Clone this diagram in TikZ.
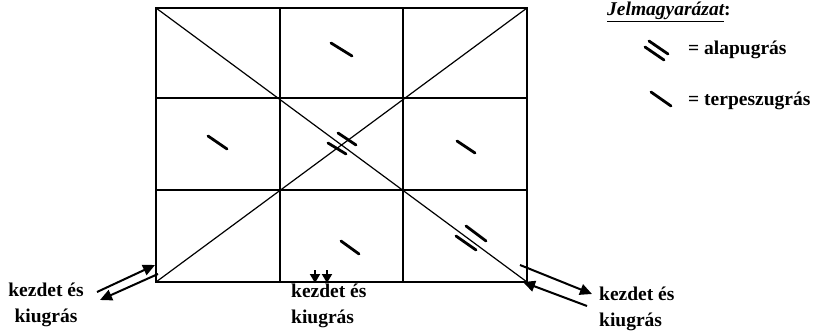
\documentclass[tikz,border=0pt]{standalone}
\usepackage{fontspec}
\setmainfont{Liberation Serif}
\usetikzlibrary{arrows.meta}
\begin{document}
\begin{tikzpicture}[x=1pt,y=-1pt,
  grid/.style={line width=1.8pt},
  diag/.style={line width=1.2pt},
  jump/.style={line width=2.8pt, line cap=round},
  arr/.style={line width=2pt, -{Triangle[length=12pt,width=11pt]}},
  marr/.style={line width=1.8pt, -{Triangle[length=9pt,width=10pt]}},
  lbl/.style={font=\fontsize{19.5}{26}\selectfont\bfseries, inner sep=0pt},
]
\useasboundingbox (0,0) rectangle (814,331);
% grid corners
\coordinate (TL) at (156,8);
\coordinate (TR) at (527,8);
\coordinate (BL) at (156,282);
\coordinate (BR) at (527,282);
\draw[grid] (TL) rectangle (BR);
\draw[grid] (280,8) -- (280,282) (403,8) -- (403,282);
\draw[grid] (156,98) -- (527,98) (156,190) -- (527,190);
\draw[diag] (TL) -- (BR) (BL) -- (TR);
% single marks (terpeszugras)
\draw[jump] (331,43) -- (352,56);
\draw[jump] (208,136) -- (227,149);
\draw[jump] (457,141) -- (475,153);
\draw[jump] (341,241) -- (359,254);
% double marks (alapugras)
\draw[jump] (338,133) -- (356,145) (328,143) -- (346,154);
\draw[jump] (466,226) -- (486,241) (456,236) -- (476,250);
% start/exit arrows
\coordinate (l1a) at (97,292); \coordinate (l1b) at (155,265);
\coordinate (l2a) at (158,274); \coordinate (l2b) at (100,300);
\draw[arr] (l1a) -- (l1b);
\draw[arr] (l2a) -- (l2b);
\coordinate (m1a) at (315,270); \coordinate (m1b) at (315,283);
\coordinate (m2a) at (327,270); \coordinate (m2b) at (327,283);
\draw[marr] (m1a) -- (m1b);
\draw[marr] (m2a) -- (m2b);
\coordinate (r1a) at (520,265); \coordinate (r1b) at (592,294);
\coordinate (r2a) at (587,306); \coordinate (r2b) at (523,282);
\draw[arr] (r1a) -- (r1b);
\draw[arr] (r2a) -- (r2b);
% labels
\node[lbl, align=center] (ll) at (46,305) {kezdet és\\kiugrás};
\node[lbl, align=left, anchor=north west] (ml) at (291,284) {kezdet és\\kiugrás};
\node[lbl, align=left, anchor=north west] (rl) at (599,287) {kezdet és\\kiugrás};
% legend
\node[lbl, anchor=west] (leg) at (607,12) {\textit{\underline{Jelmagyarázat}}:};
\draw[jump] (649,41) -- (668,54) (645,47) -- (664,60);
\node[lbl, anchor=west] (l1) at (688,50) {= alapugrás};
\draw[jump] (651,92) -- (671,106);
\node[lbl, anchor=west] (l2) at (688,101) {= terpeszugrás};
\end{tikzpicture}
\end{document}
